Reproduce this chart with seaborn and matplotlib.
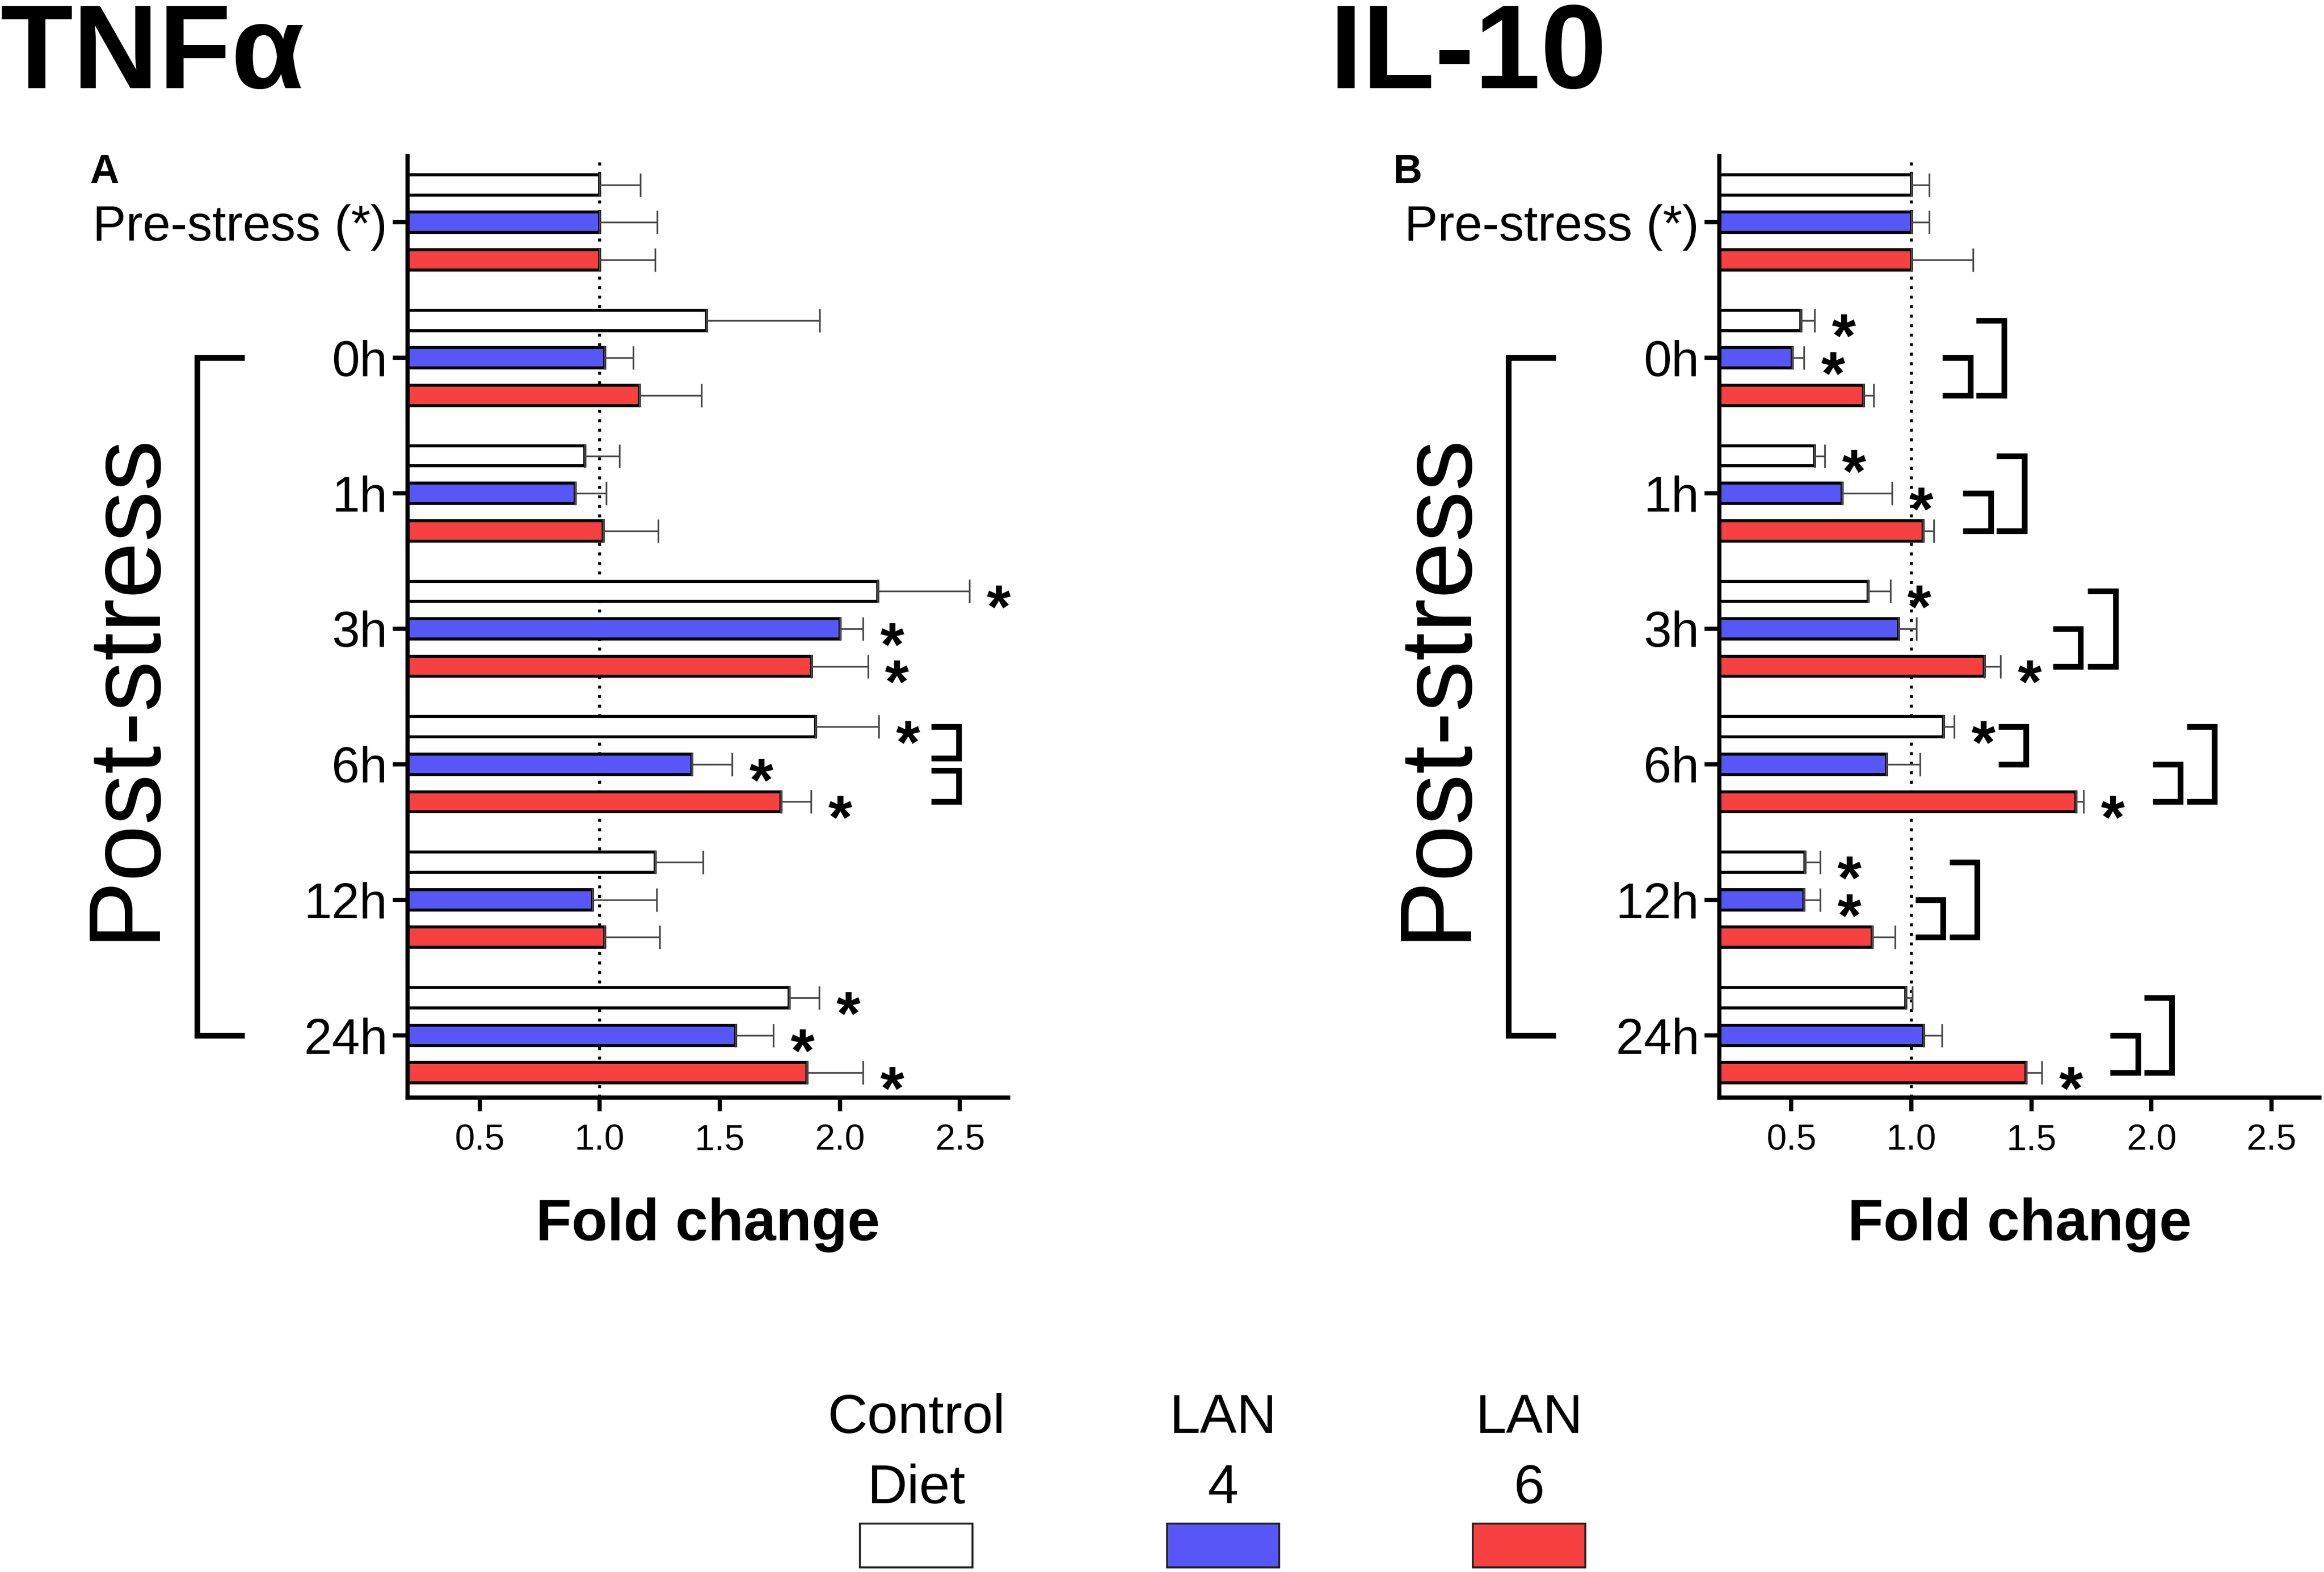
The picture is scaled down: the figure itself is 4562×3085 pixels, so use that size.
import numpy as np
import pandas as pd
import matplotlib
matplotlib.use("Agg")
import matplotlib.pyplot as plt
import matplotlib.transforms as mtransforms
from matplotlib.patches import Rectangle
from matplotlib.colors import to_rgba
import seaborn as sns

# ---------------- data ----------------
timepoints = ["Pre-stress (*)", "0h", "1h", "3h", "6h", "12h", "24h"]
groups = ["Control\nDiet", "LAN\n4", "LAN\n6"]
colors = ["#FFFFFF", "#5757F7", "#F74141"]

tnf_control = [1.00, 1.446, 0.937, 2.157, 1.900, 1.231, 1.789]
tnf_lan4 = [1.00, 1.020, 0.897, 2.000, 1.383, 0.969, 1.566]
tnf_lan6 = [1.00, 1.166, 1.014, 1.883, 1.754, 1.020, 1.863]
tnf_control_err = [0.17, 0.471, 0.146, 0.383, 0.263, 0.200, 0.125]
tnf_lan4_err = [0.24, 0.120, 0.129, 0.097, 0.168, 0.268, 0.157]
tnf_lan6_err = [0.23, 0.257, 0.229, 0.234, 0.126, 0.229, 0.234]
tnf_control_sig = [0, 0, 0, 1, 1, 0, 1]
tnf_lan4_sig = [0, 0, 0, 1, 1, 0, 1]
tnf_lan6_sig = [0, 0, 0, 1, 1, 0, 1]
# (timepoint, from bar, to bar, bracket x)
tnf_brackets = [("6h", 0, 1, 2.495), ("6h", 1, 2, 2.495)]

il10_control = [1.00, 0.539, 0.597, 0.819, 1.133, 0.557, 0.976]
il10_lan4 = [1.00, 0.504, 0.712, 0.947, 0.896, 0.552, 1.051]
il10_lan6 = [1.00, 0.800, 1.048, 1.304, 1.685, 0.837, 1.477]
il10_control_err = [0.075, 0.058, 0.043, 0.093, 0.046, 0.064, 0.029]
il10_lan4_err = [0.075, 0.048, 0.208, 0.074, 0.139, 0.069, 0.077]
il10_lan6_err = [0.256, 0.043, 0.045, 0.067, 0.032, 0.094, 0.067]
il10_control_sig = [0, 1, 1, 1, 1, 1, 0]
il10_lan4_sig = [0, 1, 1, 0, 0, 1, 0]
il10_lan6_sig = [0, 0, 0, 1, 1, 0, 1]
il10_brackets = [("0h", 1, 2, 1.245), ("0h", 0, 2, 1.385),
                 ("1h", 1, 2, 1.330), ("1h", 0, 2, 1.470),
                 ("3h", 1, 2, 1.705), ("3h", 0, 2, 1.850),
                 ("6h", 0, 1, 1.478), ("6h", 1, 2, 2.121), ("6h", 0, 2, 2.263),
                 ("12h", 1, 2, 1.132), ("12h", 0, 2, 1.274),
                 ("24h", 1, 2, 1.943), ("24h", 0, 2, 2.085)]

# ---------------- style ----------------
sns.set_style("white")
plt.rcParams["font.family"] = ["Liberation Sans", "DejaVu Sans"]
plt.rcParams.update({"text.color": "black", "axes.labelcolor": "black",
                     "xtick.color": "black", "ytick.color": "black",
                     "axes.edgecolor": "black"})
palette = dict(zip(groups, colors))

fig = plt.figure(figsize=(4562 / 300, 3085 / 300), dpi=300)
fig.patch.set_facecolor("white")

ax_w = 0.2583
ax_h = 0.5990
axA = fig.add_axes([0.1754, 0.3018, ax_w, ax_h])
axB = fig.add_axes([0.7398, 0.3018, ax_w, ax_h])


def draw_panel(ax, means, errs, sigs, brackets, letter_x, letter):
    df = pd.DataFrame(
        [dict(time=t, group=g, value=v)
         for g, m in zip(groups, means) for t, v in zip(timepoints, m)]
    )
    ax.axvline(1.0, color="black", lw=1.4, ls=(0, (1, 2.2)), zorder=0.5)
    sns.barplot(data=df, x="value", y="time", hue="group", order=timepoints,
                hue_order=groups, palette=palette, orient="h", width=0.83,
                gap=0.46, edgecolor="black", linewidth=1.4, errorbar=None,
                saturation=1, legend=False, ax=ax, zorder=2)

    n = len(timepoints)
    centers = np.zeros((3, n))
    ends = np.zeros((3, n))
    pal_rgba = [np.array(to_rgba(c)) for c in colors]
    for cont in ax.containers:
        for bar in cont:
            yc = bar.get_y() + bar.get_height() / 2
            j = int(round(yc))
            fc = np.array(bar.get_facecolor())
            k = int(np.argmin([np.abs(fc[:3] - p[:3]).sum() for p in pal_rgba]))
            centers[k, j] = yc
            ends[k, j] = bar.get_width()

    for k in range(3):
        ax.errorbar(ends[k], centers[k], xerr=[np.zeros(n), np.array(errs[k])],
                    fmt="none", ecolor="#4a4a4a", elinewidth=0.8, capsize=5.5,
                    capthick=0.8, zorder=3)
        for j in range(n):
            if sigs[k][j]:
                ax.annotate("*", xy=(ends[k][j] + errs[k][j], centers[k][j]),
                            xytext=(8, -17), textcoords="offset points",
                            ha="left", va="baseline", fontsize=29,
                            fontweight="bold", annotation_clip=False)

    arm = 0.115
    for (t, i, j, x) in brackets:
        c = timepoints.index(t)
        y0, y1 = centers[i][c], centers[j][c]
        shared = [b for b in brackets if b[0] == t and b[3] == x and b != (t, i, j, x)]
        ins = 0.045
        if any(b[2] == i for b in shared):
            y0 += ins
        if any(b[1] == j for b in shared):
            y1 -= ins
        ax.plot([x - arm, x, x, x - arm], [y0, y0, y1, y1], color="black",
                lw=2.7, solid_joinstyle="miter", solid_capstyle="butt",
                clip_on=False, zorder=4)

    ax.set_xlim(0.2, 2.7)
    ax.set_ylim(6.46, -0.49)
    ax.set_xticks([0.5, 1.0, 1.5, 2.0, 2.5])
    ax.set_xticklabels(["0.5", "1.0", "1.5", "2.0", "2.5"])
    sns.despine(ax=ax)
    for s in ("left", "bottom"):
        ax.spines[s].set_linewidth(2.0)
        ax.spines[s].set_color("black")
    ax.tick_params(axis="y", length=7, width=2, pad=2.5, labelsize=23.6,
                   left=True, color="black", labelcolor="black")
    ax.tick_params(axis="x", length=6.5, width=2, pad=5.8, labelsize=17,
                   bottom=True, color="black", labelcolor="black")
    ax.set_ylabel("")
    ax.set_xlabel("Fold change", fontsize=27.5, fontweight="bold", color="black")
    ax.xaxis.set_label_coords(0.5, -0.1515)
    ax.xaxis.label.set_va("baseline")

    trans = mtransforms.blended_transform_factory(ax.transAxes, ax.transData)
    ax.plot([-0.272, -0.351, -0.351, -0.272], [1, 1, 6, 6], transform=trans,
            color="black", lw=2.7, solid_joinstyle="miter",
            solid_capstyle="butt", clip_on=False)
    ax.text(-0.426, 3.42, "Post-stress", transform=trans, rotation=90,
            rotation_mode="anchor", ha="center", va="baseline", fontsize=48)

    fig.text(letter_x, 0.8836, letter, fontsize=19, fontweight="bold",
             ha="left", va="baseline")


draw_panel(axA, [tnf_control, tnf_lan4, tnf_lan6],
           [tnf_control_err, tnf_lan4_err, tnf_lan6_err],
           [tnf_control_sig, tnf_lan4_sig, tnf_lan6_sig], tnf_brackets, 0.0386, "A")
draw_panel(axB, [il10_control, il10_lan4, il10_lan6],
           [il10_control_err, il10_lan4_err, il10_lan6_err],
           [il10_control_sig, il10_lan4_sig, il10_lan6_sig], il10_brackets, 0.5995, "B")

fig.text(0.0, 0.944, "TNFα", fontsize=56, fontweight="bold", ha="left", va="baseline")
fig.text(0.572, 0.944, "IL-10", fontsize=56, fontweight="bold", ha="left", va="baseline")

# ---------------- legend ----------------
leg_x = [0.3943, 0.5263, 0.6579]
box_w, box_h, box_y = 0.0484, 0.0279, 0.0029
for cx, g in zip(leg_x, groups):
    fig.add_artist(Rectangle((cx - box_w / 2, box_y), box_w, box_h,
                             transform=fig.transFigure, facecolor=palette[g],
                             edgecolor="#222222", lw=0.9))
    for li, line in enumerate(g.split("\n")):
        fig.text(cx, 0.0885 - li * 0.0447, line, fontsize=26, ha="center",
                 va="baseline")

fig.savefig("out.png", dpi=300, facecolor="white")
